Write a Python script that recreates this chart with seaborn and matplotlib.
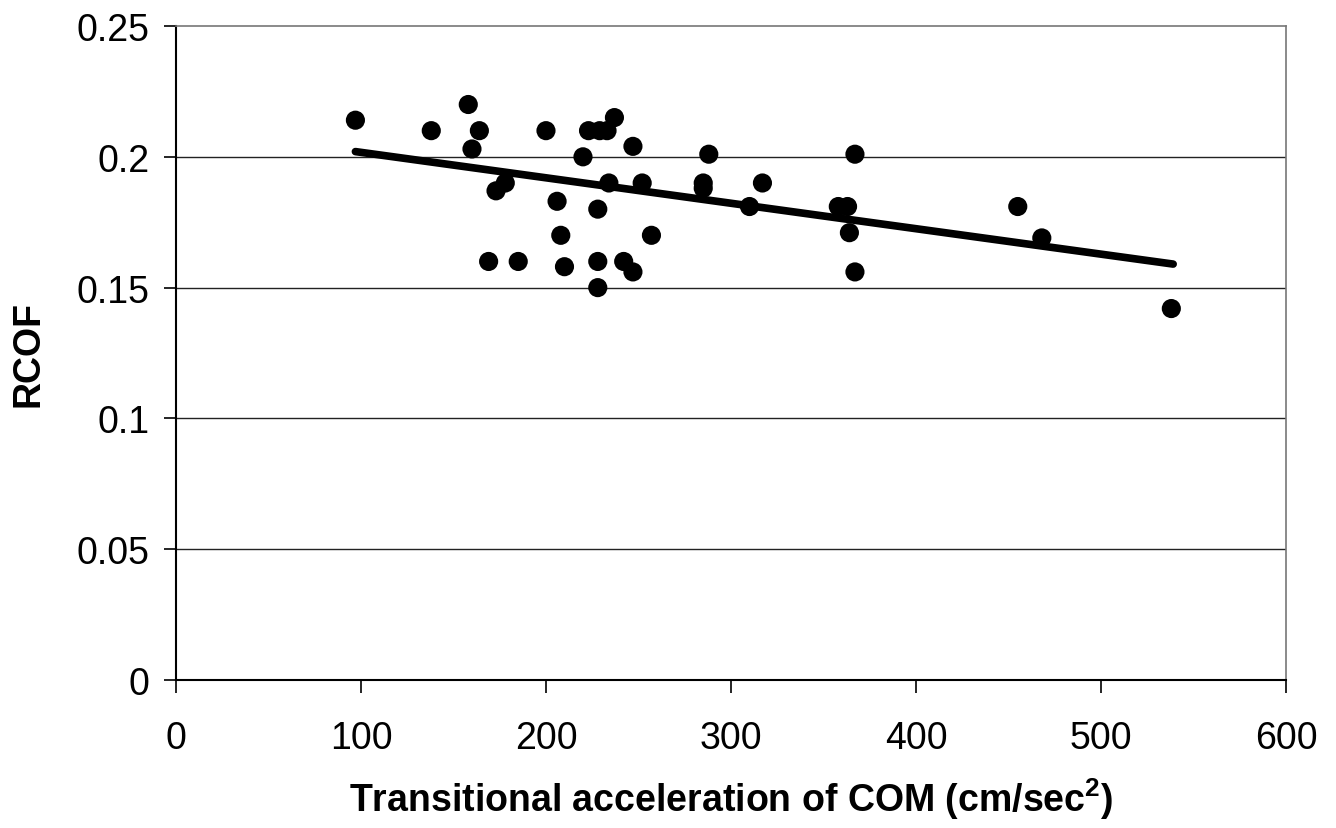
import matplotlib
matplotlib.use("Agg")
import matplotlib.pyplot as plt
import seaborn as sns
import pandas as pd

# Data
accel = [97, 138, 158, 160, 164, 169, 173, 178, 185, 200, 206, 208, 210, 220,
         223, 228, 228, 228, 229, 233, 234, 237, 242, 247, 247, 252, 257, 285,
         285, 288, 310, 317, 358, 363, 364, 367, 367, 455, 468, 538]
rcof = [0.214, 0.210, 0.220, 0.203, 0.210, 0.160, 0.187, 0.190, 0.160, 0.210,
        0.183, 0.170, 0.158, 0.200, 0.210, 0.180, 0.160, 0.150, 0.210, 0.210,
        0.190, 0.215, 0.160, 0.204, 0.156, 0.190, 0.170, 0.190, 0.188, 0.201,
        0.181, 0.190, 0.181, 0.181, 0.171, 0.201, 0.156, 0.181, 0.169, 0.142]
trend_x = [97, 539]
trend_y = [0.202, 0.159]
x_ticks = [0, 100, 200, 300, 400, 500, 600]
y_ticks = [0, 0.05, 0.1, 0.15, 0.2, 0.25]
y_tick_labels = ["0", "0.05", "0.1", "0.15", "0.2", "0.25"]

sns.set_theme(style="white")
plt.rcParams['font.family'] = ['Liberation Sans', 'DejaVu Sans']
plt.rcParams['mathtext.fontset'] = 'custom'
plt.rcParams['mathtext.rm'] = 'Liberation Sans'
plt.rcParams['mathtext.bf'] = 'Liberation Sans:bold'
plt.rcParams['text.color'] = 'black'
plt.rcParams['axes.labelcolor'] = 'black'
plt.rcParams['xtick.color'] = 'black'
plt.rcParams['ytick.color'] = 'black'

df = pd.DataFrame({"accel": accel, "rcof": rcof})
tdf = pd.DataFrame({"x": trend_x, "y": trend_y})

fig = plt.figure(figsize=(13.36, 8.29), dpi=100)
ax = fig.add_axes([0.1317, 0.1785, 0.8309, 0.7889])

for yv in y_ticks[1:-1]:
    ax.axhline(yv, color="#222222", lw=1.0, zorder=0)

sns.scatterplot(data=df, x="accel", y="rcof", ax=ax, color="black", s=190,
                edgecolor="none", zorder=3)
sns.lineplot(data=tdf, x="x", y="y", ax=ax, color="black", lw=5.5, zorder=2)

ax.set_xlim(0, 600)
ax.set_ylim(0, 0.25)
ax.set_xticks(x_ticks)
ax.set_yticks(y_ticks)
ax.set_yticklabels(y_tick_labels)
ax.tick_params(axis="both", labelsize=27, length=9, width=1.2,
               direction="out", bottom=True, left=True)
ax.tick_params(axis="x", pad=20)
ax.tick_params(axis="y", pad=10)

for side in ["left", "bottom"]:
    ax.spines[side].set_color("black")
    ax.spines[side].set_linewidth(1.5)
for side in ["top", "right"]:
    ax.spines[side].set_color("#777777")
    ax.spines[side].set_linewidth(1.2)

ax.set_xlabel(r"Transitional acceleration of COM (cm/sec$^{\mathbf{2}}$)",
              fontsize=27, fontweight="bold", labelpad=14)
ax.set_ylabel("RCOF", fontsize=27, fontweight="bold", labelpad=22)

fig.savefig("out.png", dpi=100, facecolor="white")
